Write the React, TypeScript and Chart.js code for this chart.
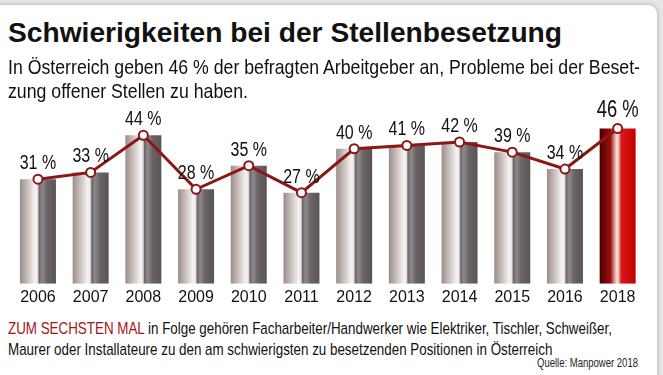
import React, { useEffect, useLayoutEffect, useRef } from "react";
import { Chart, registerables } from "chart.js";

Chart.register(...registerables);

const years = ["2006", "2007", "2008", "2009", "2010", "2011", "2012", "2013", "2014", "2015", "2016", "2018"];
const values = [31, 33, 44, 28, 35, 27, 40, 41, 42, 39, 34, 46];
const highlightIndex = 11;

const SANS = "'Liberation Sans', Arial, Helvetica, sans-serif";
const LINE_RED = "#8c1717";

function barGradient(chart: any, index: number) {
  const xs = chart.scales.x;
  const area = chart.chartArea;
  if (!xs || !area) return "#8a8486";
  const cx = xs.getPixelForValue(index);
  const w = ((area.right - area.left) / years.length) * 0.683;
  const g = chart.ctx.createLinearGradient(cx - w / 2, 0, cx + w / 2, 0);
  if (index === highlightIndex) {
    g.addColorStop(0, "#4e0000");
    g.addColorStop(0.3, "#9a0c0c");
    g.addColorStop(0.47, "#f6ddd6");
    g.addColorStop(0.52, "#f2c8c0");
    g.addColorStop(0.6, "#d81a1a");
    g.addColorStop(1, "#c40000");
  } else {
    g.addColorStop(0, "#9c8c88");
    g.addColorStop(0.42, "#f6f3f2");
    g.addColorStop(0.49, "#e8e4e4");
    g.addColorStop(0.53, "#6c6668");
    g.addColorStop(0.62, "#8e898b");
    g.addColorStop(0.75, "#6a6466");
    g.addColorStop(1, "#5a5456");
  }
  return g;
}

const valueLabels = {
  id: "valueLabels",
  afterDatasetsDraw(chart: any) {
    const meta = chart.getDatasetMeta(1);
    const ctx = chart.ctx;
    meta.data.forEach((pt: any, i: number) => {
      const big = i === highlightIndex;
      ctx.save();
      ctx.fillStyle = "#111";
      ctx.font = `${big ? 23 : 20}px ${SANS}`;
      ctx.textAlign = "center";
      ctx.textBaseline = "alphabetic";
      ctx.translate(pt.x, pt.y - (big ? 12 : 10));
      ctx.scale(0.8, 1);
      ctx.fillText(`${values[i]} %`, 0, 0);
      ctx.restore();
    });
  },
};

function Fit({ width, style, children, first }: any) {
  const outer = useRef<HTMLDivElement | null>(null);
  const firstRef = useRef<HTMLSpanElement | null>(null);
  useLayoutEffect(() => {
    if (!outer.current || !firstRef.current) return;
    const w = firstRef.current.getBoundingClientRect().width;
    if (w > 0) outer.current.style.transform = `scaleX(${width / w})`;
  }, [width]);
  return (
    <div ref={outer} style={{ ...style, transformOrigin: "0 0", whiteSpace: "nowrap" }}>
      <span ref={firstRef}>{first}</span>
      {children}
    </div>
  );
}

export default function App() {
  const ref = useRef<HTMLCanvasElement | null>(null);
  useEffect(() => {
    if (!ref.current) return;
    const chart = new Chart(ref.current, {
      type: "bar",
      data: {
        labels: years,
        datasets: [
          {
            type: "bar",
            data: values,
            backgroundColor: (c: any) => barGradient(c.chart, c.dataIndex),
            borderWidth: 0,
            categoryPercentage: 1,
            barPercentage: 0.683,
            order: 2,
          },
          {
            type: "line",
            data: values,
            borderColor: LINE_RED,
            borderWidth: 3,
            pointRadius: 4.5,
            pointBackgroundColor: "#ffffff",
            pointBorderColor: LINE_RED,
            pointBorderWidth: 2,
            tension: 0,
            order: 1,
          },
        ],
      } as any,
      options: {
        animation: false,
        responsive: false,
        maintainAspectRatio: false,
        layout: { padding: { left: 11.6, right: 19, top: 15, bottom: 4 } },
        plugins: { legend: { display: false }, tooltip: { enabled: false }, title: { display: false } },
        scales: {
          x: {
            grid: { display: false, drawTicks: false },
            border: { display: false },
            ticks: { color: "#111", font: { family: SANS, size: 16 }, padding: 4, maxRotation: 0, autoSkip: false },
          },
          y: { display: false, min: 0, max: 50 },
        },
      },
      plugins: [valueLabels],
    });
    return () => chart.destroy();
  }, []);

  return (
    <div style={{ position: "fixed", left: 0, top: 0, width: 663, height: 375, overflow: "hidden", background: "#e6e6e6" }}>
      <div
        style={{
          position: "absolute",
          left: -12,
          top: 5,
          width: 669,
          height: 400,
          background: "#fff",
          borderRadius: 9,
          boxShadow: "0 0 5px rgba(0,0,0,0.25)",
        }}
      />
      <canvas ref={ref} width={663} height={215} style={{ position: "absolute", left: 0, top: 100, width: 663, height: 215 }} />
      <Fit
        width={554}
        first="Schwierigkeiten bei der Stellenbesetzung"
        style={{ position: "absolute", left: 8, top: 16, fontFamily: SANS, fontWeight: "bold", fontSize: 28, color: "#111", lineHeight: "34px" }}
      />
      <Fit
        width={632}
        first="In Österreich geben 46 % der befragten Arbeitgeber an, Probleme bei der Beset-"
        style={{ position: "absolute", left: 8, top: 55, fontFamily: SANS, fontSize: 21, color: "#111", lineHeight: "24px" }}
      >
        <br />
        zung offener Stellen zu haben.
      </Fit>
      <Fit
        width={604}
        first={
          <>
            <span style={{ color: "#a31515" }}>ZUM SECHSTEN MAL</span> in Folge gehören Facharbeiter/Handwerker wie Elektriker, Tischler, Schweißer,
          </>
        }
        style={{ position: "absolute", left: 8, top: 318, fontFamily: SANS, fontSize: 17, color: "#111", lineHeight: "21px" }}
      >
        <br />
        Maurer oder Installateure zu den am schwierigsten zu besetzenden Positionen in Österreich
      </Fit>
      <Fit
        width={101}
        first="Quelle: Manpower 2018"
        style={{ position: "absolute", left: 537, top: 356, fontFamily: SANS, fontSize: 12, color: "#222", lineHeight: "14px" }}
      />
    </div>
  );
}
